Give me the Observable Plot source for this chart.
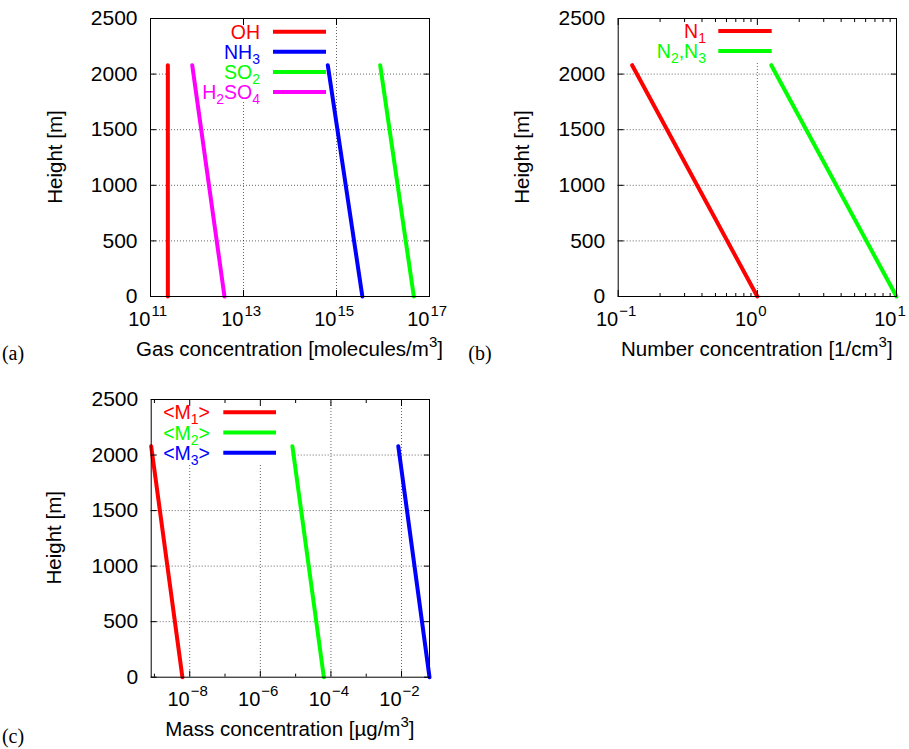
<!DOCTYPE html>
<html><head><meta charset="utf-8">
<script src="https://cdn.jsdelivr.net/npm/d3@7"></script>
<script src="https://cdn.jsdelivr.net/npm/@observablehq/plot@0.6"></script>
<style>
body{margin:0;background:#fff;}
#wrap{position:relative;width:909px;height:749px;font-family:"Liberation Sans",Arial,sans-serif;}
#wrap svg{position:absolute;overflow:visible;}
</style></head><body><div id="wrap"></div>
<script>
// ---- shared ----
const heights = [0, 2080];
const yTicks = [0, 500, 1000, 1500, 2000, 2500];
const yGrid = [500, 1000, 1500, 2000];

// ---- panel (a): gas concentration [molecules/m3] ----
const gasOH = [2.36e11, 2.36e11];
const gasNH3 = [3.6e15, 6.5e14];
const gasSO2 = [4.6e16, 8.7e15];
const gasH2SO4 = [3.9e12, 7.9e11];
const gasTicks = [1e11, 1e13, 1e15, 1e17];
const gasExps = ["11", "13", "15", "17"];

// ---- panel (b): number concentration [1/cm3] ----
const numN1 = [1.0, 0.126];
const numN23 = [10, 1.26];
const numTicks = [0.1, 1, 10];
const numExps = ["\u22121", "0", "1"];
const numMinor = [0.2,0.3,0.4,0.5,0.6,0.7,0.8,0.9,2,3,4,5,6,7,8,9];

// ---- panel (c): mass concentration [ug/m3] ----
const massM1 = [6.2e-9, 8.1e-10];
const massM2 = [6.3e-5, 8.1e-6];
const massM3 = [0.062, 8.1e-3];
const massTicks = [1e-8, 1e-6, 1e-4, 1e-2];
const massExps = ["\u22128", "\u22126", "\u22124", "\u22122"];
const massMinor = [1e-9, 1e-7, 1e-5, 1e-3];

const wrap = document.getElementById("wrap");
const FONT = "Liberation Sans, Arial, sans-serif";
const FS = 20.5, FS_SMALL = 15;

function addRich(sel, parts, opts) {
  const t = sel.append("text")
    .attr("x", opts.x).attr("y", opts.y)
    .attr("text-anchor", opts.anchor || "start")
    .attr("fill", opts.fill || "#000")
    .attr("font-size", opts.size || FS)
    .attr("font-family", opts.family || FONT);
  if (opts.rotate) t.attr("transform", `rotate(${opts.rotate},${opts.x},${opts.y})`);
  let shift = 0;
  for (const [txt, kind] of parts) {
    const target = kind === "sub" ? 5 : kind === "sup" ? -9 : 0;
    const ts = t.append("tspan").text(txt).attr("dy", target - shift);
    if (kind) ts.attr("font-size", opts.small || FS_SMALL);
    shift = target;
  }
  return t;
}

function makePanel(o) {
  const data = o.series.flatMap(s => heights.map((h, i) => ({key: s.key, color: s.color, h, v: s.values[i]})));
  const gridStyle = {stroke: "#000", strokeOpacity: 0.6, strokeDasharray: "1,2", strokeWidth: 1};
  const blank = () => "";
  const marks = [
    Plot.gridX(o.grid, gridStyle),
    Plot.gridY(yGrid, gridStyle),
    Plot.line(data, {x: "v", y: "h", z: "key", stroke: "color", strokeWidth: 4}),
    Plot.frame({stroke: "#000", strokeWidth: 1}),
    Plot.axisX(o.major, {anchor: "bottom", tickSize: -6, tickFormat: blank, label: null}),
    Plot.axisX(o.major, {anchor: "top", tickSize: -6, tickFormat: blank, label: null}),
    Plot.axisY(yTicks, {anchor: "left", tickSize: -6, tickFormat: blank, label: null}),
    Plot.axisY(yTicks, {anchor: "right", tickSize: -6, tickFormat: blank, label: null}),
    Plot.axisY(yTicks, {anchor: "left", tickSize: 0, tickPadding: 13, tickFormat: d => String(d), label: null, fontSize: 21}),
    Plot.text(o.major, {x: d => d, text: () => "10", frameAnchor: "bottom", textAnchor: "end", lineAnchor: "bottom", dy: 29, fontSize: 20}),
    Plot.text(o.major, {x: d => d, text: (d, i) => o.exps[i], frameAnchor: "bottom", textAnchor: "start", lineAnchor: "bottom", dy: 19, dx: 1, fontSize: 15})
  ];
  if (o.minor.length) {
    marks.push(Plot.axisX(o.minor, {anchor: "bottom", tickSize: -3, tickFormat: blank, label: null}));
    marks.push(Plot.axisX(o.minor, {anchor: "top", tickSize: -3, tickFormat: blank, label: null}));
  }
  const chart = Plot.plot({
    width: o.width, height: o.height,
    marginLeft: o.ml, marginRight: o.mr, marginTop: o.mt, marginBottom: o.mb,
    style: {fontFamily: FONT, fontSize: "20px", background: "transparent", color: "#000"},
    x: {type: "log", domain: o.domain, label: null},
    y: {domain: [0, 2500], label: null},
    color: {type: "identity"},
    marks
  });
  chart.style.left = o.left + "px";
  chart.style.top = o.top + "px";
  wrap.appendChild(chart);
  const svg = d3.select(chart);
  // opaque key background (under the data lines)
  svg.insert("rect", 'g[aria-label="line"]')
    .attr("x", o.box[0]).attr("y", o.box[1]).attr("width", o.box[2]).attr("height", o.box[3])
    .attr("fill", "#fff");
  // key
  o.series.forEach((s, i) => {
    const y = o.key.y0 + i * o.key.step;
    addRich(svg, s.label, {x: o.key.tx, y: y + 7, anchor: "end", fill: s.color, size: 19.5, small: 14});
    svg.append("line").attr("x1", o.key.l1).attr("x2", o.key.l2).attr("y1", y).attr("y2", y)
      .attr("stroke", s.color).attr("stroke-width", 4);
  });
  // axis titles
  addRich(svg, o.xtitle, {x: o.xt[0], y: o.xt[1], anchor: "middle"});
  addRich(svg, [["Height [m]", null]], {x: o.yt[0], y: o.yt[1], anchor: "middle", rotate: -90});
  // panel label
  svg.append("text").attr("x", o.pl[0]).attr("y", o.pl[1]).attr("font-family", "Liberation Serif, Times New Roman, serif")
    .attr("font-size", 20).text(o.plText);
}

makePanel({
  left: 0, top: 0, width: 455, height: 370, ml: 150, mr: 26, mt: 18, mb: 74,
  domain: [1e11, 1e17], major: gasTicks, exps: gasExps, minor: [], grid: [1e13, 1e15],
  series: [
    {key: "OH", color: "#ff0000", values: gasOH, label: [["OH", null]]},
    {key: "NH3", color: "#0000ff", values: gasNH3, label: [["NH", null], ["3", "sub"]]},
    {key: "SO2", color: "#00ff00", values: gasSO2, label: [["SO", null], ["2", "sub"]]},
    {key: "H2SO4", color: "#ff00ff", values: gasH2SO4, label: [["H", null], ["2", "sub"], ["SO", null], ["4", "sub"]]}
  ],
  box: [170, 19, 157, 82],
  key: {y0: 31.7, step: 20.1, tx: 260, l1: 273, l2: 326},
  xtitle: [["Gas concentration [molecules/m", null], ["3", "sup"], ["]", null]],
  xt: [289.5, 356], yt: [62, 157], pl: [13, 360], plText: "(a)"
});

makePanel({
  left: 460, top: 0, width: 449, height: 370, ml: 157.7, mr: 13, mt: 18, mb: 74,
  domain: [0.1, 10], major: numTicks, exps: numExps, minor: numMinor, grid: [1],
  series: [
    {key: "N1", color: "#ff0000", values: numN1, label: [["N", null], ["1", "sub"]]},
    {key: "N23", color: "#00ff00", values: numN23, label: [["N", null], ["2", "sub"], [",N", null], ["3", "sub"]]}
  ],
  box: [170, 19, 145, 43],
  key: {y0: 31, step: 20, tx: 246, l1: 258.3, l2: 311.7},
  xtitle: [["Number concentration [1/cm", null], ["3", "sup"], ["]", null]],
  xt: [296.8, 356], yt: [69, 157], pl: [20, 360], plText: "(b)"
});

makePanel({
  left: 0, top: 380, width: 455, height: 369, ml: 150.7, mr: 26, mt: 19, mb: 72.3,
  domain: [8.1e-10, 0.062], major: massTicks, exps: massExps, minor: massMinor, grid: massTicks,
  series: [
    {key: "M1", color: "#ff0000", values: massM1, label: [["<M", null], ["1", "sub"], [">", null]]},
    {key: "M2", color: "#00ff00", values: massM2, label: [["<M", null], ["2", "sub"], [">", null]]},
    {key: "M3", color: "#0000ff", values: massM3, label: [["<M", null], ["3", "sub"], [">", null]]}
  ],
  box: [152, 20, 138, 63],
  key: {y0: 32.3, step: 20.2, tx: 210, l1: 223.3, l2: 276},
  xtitle: [["Mass concentration [\u00b5g/m", null], ["3", "sup"], ["]", null]],
  xt: [289.9, 356], yt: [61, 157.8], pl: [13, 363], plText: "(c)"
});
</script></body></html>
